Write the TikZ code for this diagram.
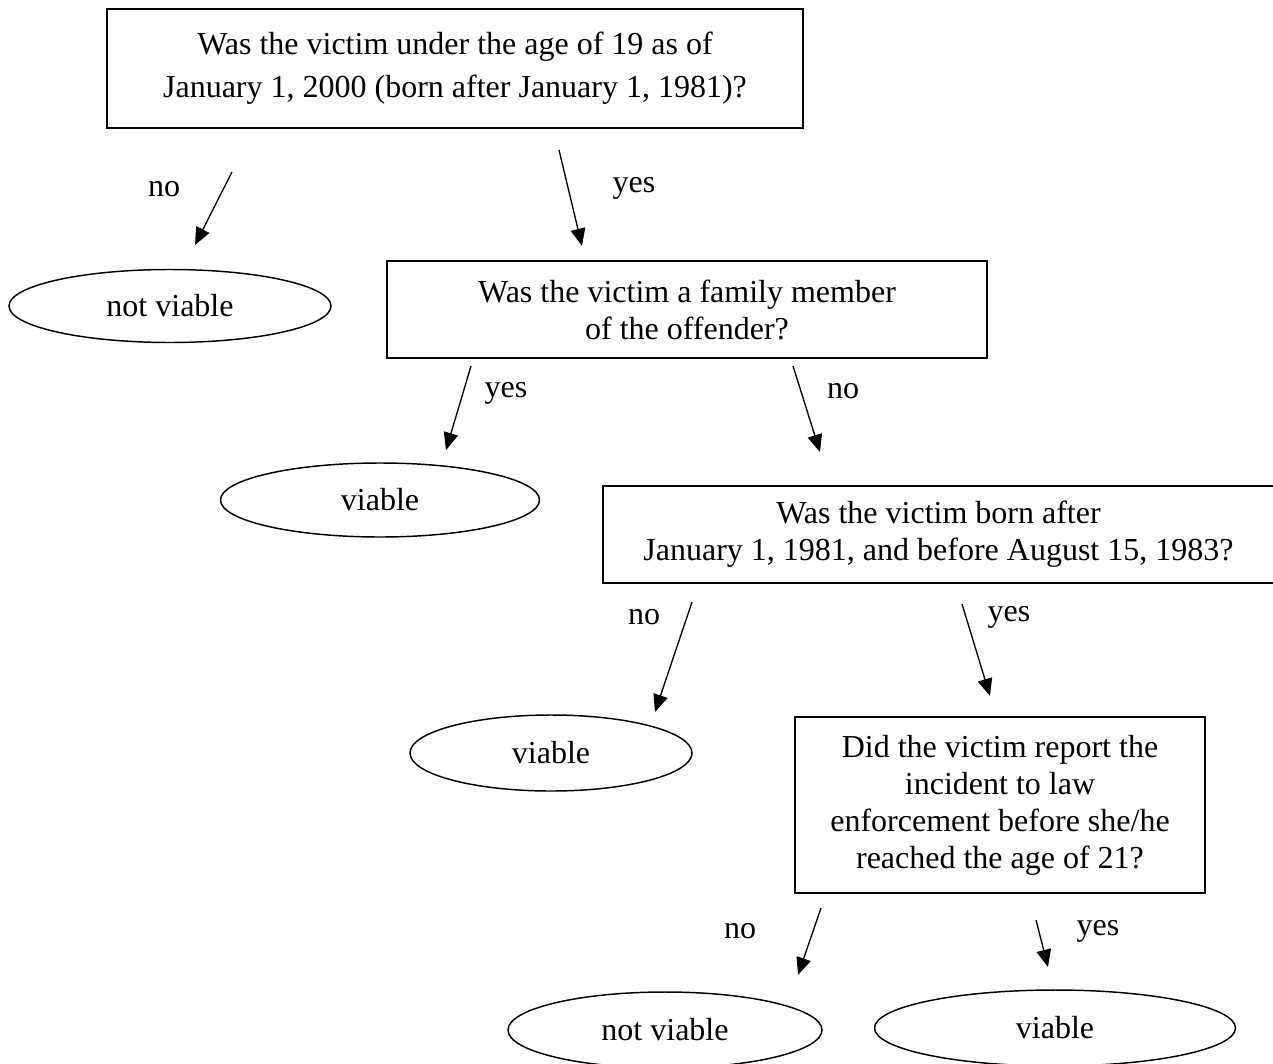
\documentclass[tikz,border=0pt]{standalone}
\usepackage{fontspec}
\setmainfont{Liberation Serif}
\usetikzlibrary{shapes.geometric,arrows.meta}
\newcommand{\qfont}{\fontsize{24}{27.75}\selectfont}
\tikzset{
  qbox/.style={draw,rectangle,line width=1.25pt,align=center,inner sep=0pt,font=\qfont},
  endell/.style={draw,ellipse,line width=1.1pt,inner sep=0pt,font=\qfont},
  lab/.style={font=\qfont},
  arr/.style={line width=1pt,-{Triangle[length=13pt,width=11pt]}},
}
\begin{document}
\begin{tikzpicture}[x=0.75pt,y=-0.75pt]
  \useasboundingbox (0,0) rectangle (1273,1063);
  \node[qbox,minimum width=522pt,minimum height=89.25pt] (age19) at (455,68.5)
    {Was the victim under the age of 19 as of\\[4.5pt]January 1, 2000 (born after January 1, 1981)?};
  \node[qbox,minimum width=450pt,minimum height=72.75pt] (family) at (687,309.5)
    {Was the victim a family member\\of the offender?};
  \node[qbox,minimum width=503.25pt,minimum height=72.75pt] (born) at (938.5,534.5)
    {Was the victim born after\\January 1, 1981, and before August 15, 1983?};
  \node[qbox,minimum width=307.5pt,minimum height=132pt] (report) at (1000,805)
    {Did the victim report the\\incident to law\\enforcement before she/he\\reached the age of 21?};
  \node[endell,minimum width=241.5pt,minimum height=54.75pt] (notv1) at (170,306) {not viable};
  \node[endell,minimum width=239.25pt,minimum height=55.5pt] (via1) at (380,500) {viable};
  \node[endell,minimum width=211.5pt,minimum height=57pt] (via2) at (551,753) {viable};
  \node[endell,minimum width=235.5pt,minimum height=57pt] (notv2) at (665,1030) {not viable};
  \node[endell,minimum width=270.75pt,minimum height=57pt] (via3) at (1055,1028) {viable};
  \coordinate (a1s) at (232,172);
  \coordinate (a1e) at (195,245);
  \coordinate (a2s) at (559,150);
  \coordinate (a2e) at (582,246);
  \coordinate (a3s) at (471,366);
  \coordinate (a3e) at (446,450);
  \coordinate (a4s) at (793,366);
  \coordinate (a4e) at (820,452);
  \coordinate (a5s) at (692,602);
  \coordinate (a5e) at (655,712);
  \coordinate (a6s) at (962,604);
  \coordinate (a6e) at (990,696);
  \coordinate (a7s) at (821,908);
  \coordinate (a7e) at (798,975);
  \coordinate (a8s) at (1036,920);
  \coordinate (a8e) at (1048,967);
  \draw[arr] (a1s) -- (a1e);
  \draw[arr] (a2s) -- (a2e);
  \draw[arr] (a3s) -- (a3e);
  \draw[arr] (a4s) -- (a4e);
  \draw[arr] (a5s) -- (a5e);
  \draw[arr] (a6s) -- (a6e);
  \draw[arr] (a7s) -- (a7e);
  \draw[arr] (a8s) -- (a8e);
  \node[lab] (l1) at (164,189) {no};
  \node[lab] (l2) at (634,188) {yes};
  \node[lab] (l3) at (506,393) {yes};
  \node[lab] (l4) at (843,391) {no};
  \node[lab] (l5) at (644,617) {no};
  \node[lab] (l6) at (1009,617) {yes};
  \node[lab] (l7) at (740,931) {no};
  \node[lab] (l8) at (1098,931) {yes};
\end{tikzpicture}
\end{document}
